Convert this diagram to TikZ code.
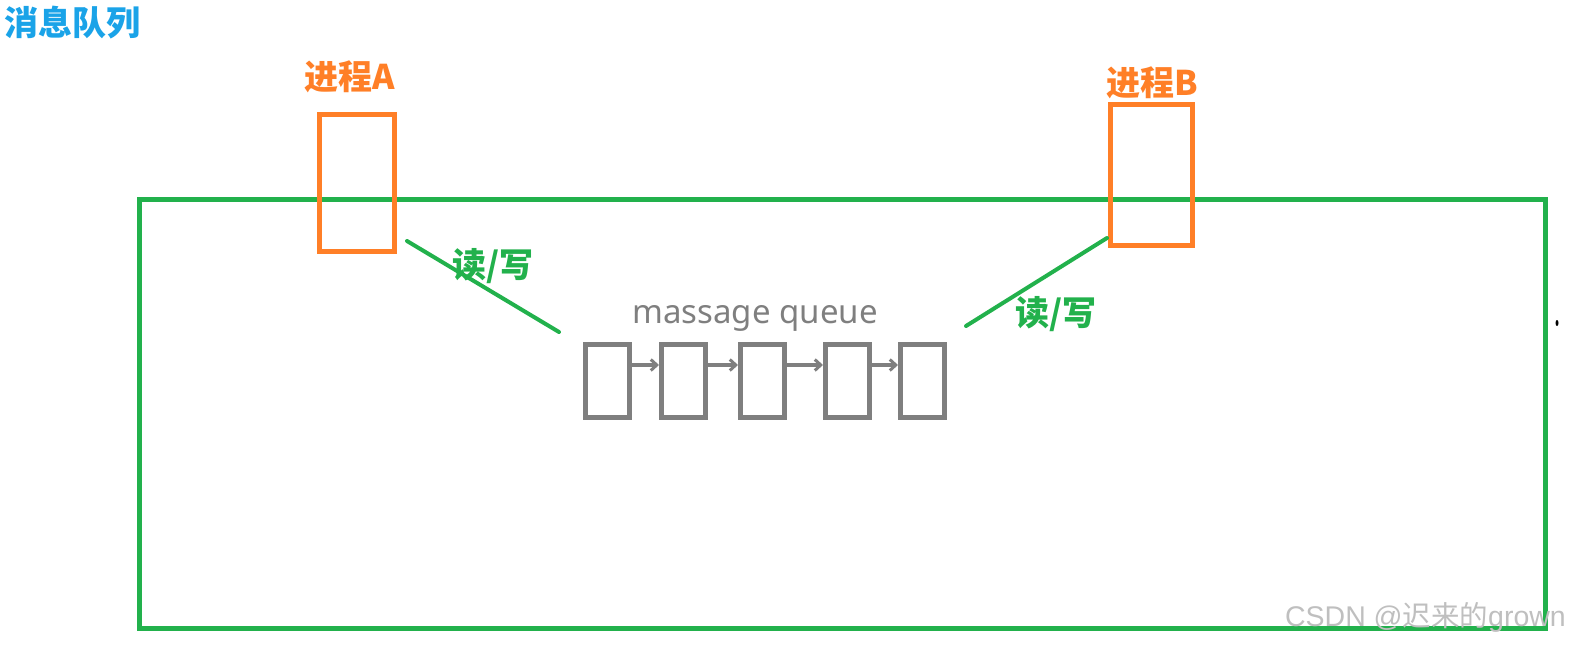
\documentclass[tikz,border=0pt]{standalone}
\usepackage{fontspec}
\newfontfamily\cjk{Noto Sans CJK SC}
\newfontfamily\latinsans{Noto Sans}
\newfontfamily\wmfont{Liberation Sans}
\usetikzlibrary{arrows.meta}
\definecolor{blueT}{HTML}{1AA3E8}
\definecolor{orangeP}{HTML}{FF7F27}
\definecolor{greenP}{HTML}{22B14C}
\definecolor{grayQ}{HTML}{7F7F7F}
\tikzset{
  bigtext/.style={font=\cjk\bfseries\fontsize{34}{40}\selectfont, inner sep=0pt, anchor=base},
  titletext/.style={bigtext, text=blueT},
  proclabel/.style={bigtext, text=orangeP},
  rwlabel/.style={bigtext, text=greenP},
  procbox/.style={draw=orangeP, line width=5pt, inner sep=0pt},
  container/.style={draw=greenP, line width=5pt},
  rwline/.style={draw=greenP, line width=4pt, line cap=round},
  qbox/.style={draw=grayQ, line width=5pt, inner sep=0pt, minimum width=44pt, minimum height=73pt},
  qarrow/.style={draw=grayQ, line width=3.5pt, -{Straight Barb[length=6pt,width=11pt,line width=3pt]}},
}
\begin{document}
\begin{tikzpicture}[x=1pt,y=-1pt]
\useasboundingbox (0,0) rectangle (1571,645);
% container
\draw[container] (139.5,199.5) rectangle (1545.5,628.5);
% title
\node[titletext] (title) at (72.5,35) {消息队列};
% processes
\node[procbox, minimum width=75pt, minimum height=137pt] (A) at (357,183) {};
\node[procbox, minimum width=82pt, minimum height=141.5pt] (B) at (1151.5,174.75) {};
\node[proclabel] (Alab) at (350,89) {进程A};
\node[proclabel] (Blab) at (1152,95) {进程B};
% queue
\node[font=\latinsans\fontsize{33}{40}\selectfont, text=grayQ, inner sep=0pt, anchor=base] (mq) at (755,323) {massage queue};
\node[qbox] (q1) at (607.5,381) {};
\node[qbox] (q2) at (683.5,381) {};
\node[qbox] (q3) at (762.5,381) {};
\node[qbox] (q4) at (847.5,381) {};
\node[qbox] (q5) at (922.5,381) {};
\foreach \a/\b in {q1/q2,q2/q3,q3/q4,q4/q5}{
  \draw[qarrow] ([yshift=-23pt]\a.north east) -- ([yshift=-23pt]\b.north west);
}
% read/write lines
\coordinate (a1) at (407,241);
\coordinate (a2) at (559,332);
\coordinate (b1) at (1107,238);
\coordinate (b2) at (966,326);
\draw[rwline] (a1) -- (a2);
\draw[rwline] (b1) -- (b2);
\node[rwlabel] (rwA) at (493,277) {读/写};
\node[rwlabel] (rwB) at (1056,325) {读/写};
% stray mark
\fill[black] (1557,323) ellipse (1.5pt and 3pt);
% watermark
\node[font=\wmfont\fontsize{28.5}{34}\selectfont, text=black!25, inner sep=0pt, anchor=base east] (wm) at (1566,626) {CSDN @{\cjk 迟来的}grown};
\end{tikzpicture}
\end{document}
